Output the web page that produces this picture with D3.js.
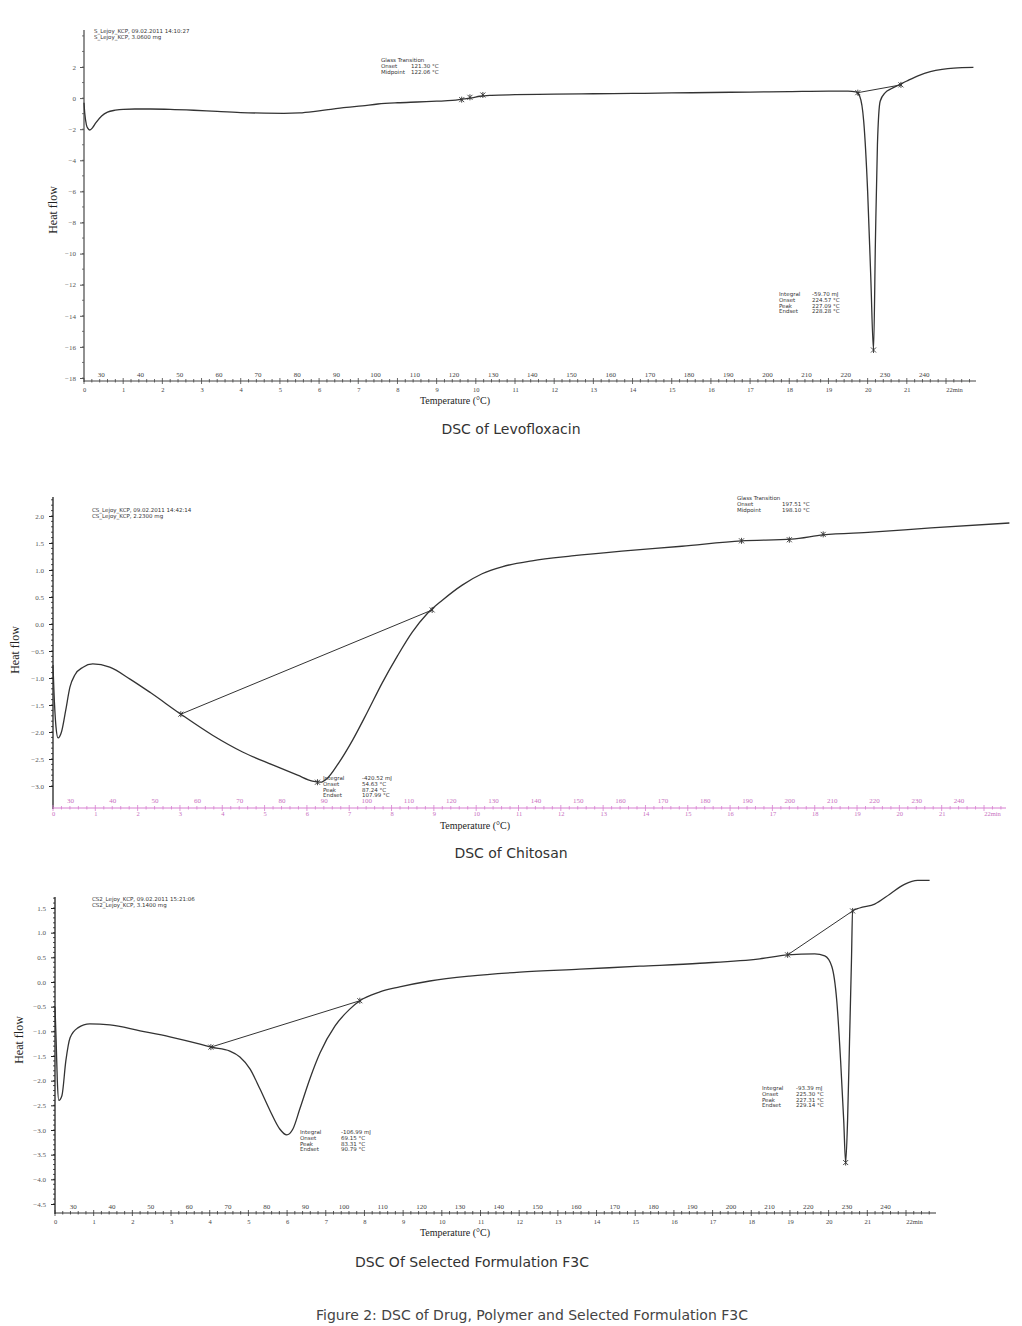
<!DOCTYPE html>
<html><head><meta charset="utf-8">
<script src="https://cdn.jsdelivr.net/npm/d3@7"></script>
<style>body{margin:0;background:#fff} svg{display:block}</style>
</head><body><svg id="c" width="1022" height="1326"></svg>
<script>
// ---------- DATA ----------
// Panel 1: Levofloxacin (time in min, heat flow)
const levTime = [0,0.02,0.06,0.1,0.15,0.22,0.3,0.45,0.6,0.8,1.0,1.3,1.7,2.2,2.8,3.4,4.0,4.6,5.1,5.5,5.9,6.3,6.7,7.1,7.5,8.0,8.5,9.0,9.4,9.7,9.9,10.1,10.4,11,12,13,14,15,16,17,18,19,19.5,19.7,19.8,19.9,20.0,20.08,20.15,20.2,20.25,20.32,20.45,20.6,20.8,21.0,21.3,21.6,21.9,22.2,22.7];
const levHeat = [-0.3,-1.0,-1.7,-1.95,-2.05,-1.9,-1.6,-1.15,-0.9,-0.78,-0.72,-0.7,-0.7,-0.72,-0.78,-0.86,-0.93,-0.97,-0.98,-0.95,-0.85,-0.72,-0.6,-0.5,-0.38,-0.3,-0.25,-0.2,-0.15,-0.05,0.02,0.12,0.18,0.22,0.25,0.28,0.3,0.33,0.36,0.39,0.42,0.45,0.45,0.4,0.1,-1.5,-6,-11.5,-16.2,-9,-3,-0.2,0.35,0.6,0.85,1.1,1.45,1.7,1.85,1.93,1.97];
const levMarkTime = [9.64,9.85,10.18,19.75,20.85,20.15];
const levMarkHeat = [-0.1,0.05,0.2,0.35,0.85,-16.2];
const levBaseTime = [19.75,20.85];
const levBaseHeat = [0.35,0.85];

// Panel 2: Chitosan
const chiTime = [0,0.02,0.07,0.12,0.2,0.3,0.4,0.52,0.71,0.94,1.34,1.82,2.3,3.02,3.77,4.48,5.19,5.78,6.13,6.32,6.49,6.72,7.08,7.43,7.78,8.14,8.49,8.84,9.2,9.67,10.14,10.61,11.32,12.26,13.44,14.86,16.27,17.45,18.2,19.34,20.75,22.6];
const chiHeat = [-0.76,-1.2,-1.9,-2.11,-2.0,-1.6,-1.17,-0.94,-0.8,-0.74,-0.8,-1.02,-1.27,-1.67,-2.06,-2.37,-2.61,-2.8,-2.91,-2.93,-2.85,-2.61,-2.15,-1.63,-1.09,-0.59,-0.15,0.19,0.44,0.72,0.93,1.06,1.17,1.26,1.35,1.44,1.54,1.57,1.65,1.7,1.78,1.87];
const chiMarkTime = [3.02,8.96,6.25,16.27,17.4,18.2];
const chiMarkHeat = [-1.67,0.26,-2.93,1.54,1.56,1.66];
const chiBaseTime = [3.02,8.96];
const chiBaseHeat = [-1.67,0.26];

// Panel 3: Selected formulation F3C
const f3cTime = [0,0.03,0.06,0.1,0.18,0.28,0.39,0.59,0.9,1.42,2.2,2.97,3.75,4.03,4.52,4.78,5.04,5.3,5.56,5.81,5.99,6.15,6.33,6.59,6.85,7.24,7.62,7.88,8.4,8.91,9.69,10.72,12.02,13.57,15.12,16.67,18.22,18.94,19.64,19.9,20.08,20.21,20.31,20.39,20.44,20.49,20.54,20.59,20.62,20.8,21.19,21.58,21.96,22.3,22.61];
const f3cHeat = [-0.5,-1.2,-2.0,-2.4,-2.3,-1.6,-1.13,-0.93,-0.85,-0.87,-0.99,-1.11,-1.26,-1.32,-1.4,-1.52,-1.76,-2.17,-2.61,-2.98,-3.1,-2.98,-2.57,-1.96,-1.44,-0.89,-0.55,-0.38,-0.2,-0.1,0.02,0.12,0.2,0.26,0.32,0.38,0.47,0.55,0.57,0.53,0.32,-0.38,-1.6,-2.81,-3.66,-2.8,-1.2,0.43,1.44,1.5,1.58,1.78,1.98,2.06,2.06];
const f3cMarkTime = [4.03,7.88,18.94,20.62,20.44];
const f3cMarkHeat = [-1.32,-0.38,0.55,1.44,-3.66];
const f3cBaseTime = [4.03,7.88,18.94,20.62];
const f3cBaseHeat = [-1.32,-0.38,0.55,1.44];

// Tick labels
const tempLabels = [30,40,50,60,70,80,90,100,110,120,130,140,150,160,170,180,190,200,210,220,230,240];
const timeLabels = [0,1,2,3,4,5,6,7,8,9,10,11,12,13,14,15,16,17,18,19,20,21,22];
const levYTicks = [2,0,-2,-4,-6,-8,-10,-12,-14,-16,-18];
const chiYTicks = [2.0,1.5,1.0,0.5,0.0,-0.5,-1.0,-1.5,-2.0,-2.5,-3.0];
const f3cYTicks = [1.5,1.0,0.5,0.0,-0.5,-1.0,-1.5,-2.0,-2.5,-3.0,-3.5,-4.0,-4.5];

// Texts
const levHeader = ["S_Lejoy_KCP, 09.02.2011 14:10:27","S_Lejoy_KCP, 3.0600 mg"];
const chiHeader = ["CS_Lejoy_KCP, 09.02.2011 14:42:14","CS_Lejoy_KCP, 2.2300 mg"];
const f3cHeader = ["CS2_Lejoy_KCP, 09.02.2011 15:21:06","CS2_Lejoy_KCP, 3.1400 mg"];
const levGT = [["Glass Transition",""],["Onset","121.30 °C"],["Midpoint","122.06 °C"]];
const levPeak = [["Integral","-59.70 mJ"],["Onset","224.57 °C"],["Peak","227.09 °C"],["Endset","228.28 °C"]];
const chiGT = [["Glass Transition",""],["Onset","197.51 °C"],["Midpoint","198.10 °C"]];
const chiPeak = [["Integral","-420.52 mJ"],["Onset","54.63 °C"],["Peak","87.24 °C"],["Endset","107.99 °C"]];
const f3cPeak1 = [["Integral","-106.99 mJ"],["Onset","69.15 °C"],["Peak","83.31 °C"],["Endset","90.79 °C"]];
const f3cPeak2 = [["Integral","-93.39 mJ"],["Onset","225.30 °C"],["Peak","227.31 °C"],["Endset","229.14 °C"]];
const captions = ["DSC of Levofloxacin","DSC of Chitosan","DSC Of Selected Formulation F3C"];
const figureTitle = "Figure 2: DSC of Drug, Polymer and Selected Formulation F3C";

// ---------- DRAW ----------
const svg = d3.select("#c");
const SERIF = "'Liberation Serif','DejaVu Serif',serif";
const SANS = "'DejaVu Sans','Liberation Sans',sans-serif";

function panel(cfg){
  const g = svg.append("g");
  const x = d3.scaleLinear().domain([0,22]).range(cfg.xr);
  const y = d3.scaleLinear().domain(cfg.yd).range(cfg.yr);
  const T = d3.scaleLinear().domain([cfg.t0, cfg.t0+220]).range(cfg.xr);
  const xAxisY = cfg.xAxisY;

  // y axis line
  g.append("line").attr("x1",cfg.xr[0]).attr("x2",cfg.xr[0])
    .attr("y1",cfg.yTop).attr("y2",xAxisY+1)
    .attr("stroke",cfg.yCol).attr("stroke-width",1.3);
  // minor y ticks
  const minor = d3.range(cfg.yd[0], cfg.yTopV+1e-9, cfg.minor);
  g.selectAll(".ym").data(minor).join("line")
    .attr("x1",cfg.xr[0]-2).attr("x2",cfg.xr[0])
    .attr("y1",d=>y(d)).attr("y2",d=>y(d))
    .attr("stroke",cfg.yCol).attr("stroke-width",0.8);
  // major y ticks + labels
  const ya = g.append("g").attr("transform",`translate(${cfg.xr[0]},0)`)
    .call(d3.axisLeft(y).tickValues(cfg.yTicks).tickSize(4).tickFormat(cfg.fmt));
  ya.select(".domain").remove();
  ya.selectAll("line").attr("stroke",cfg.yCol);
  ya.selectAll("text").attr("font-family",SERIF).attr("font-size",7).attr("fill","#555")
    .attr("x",-cfg.labOff).attr("dy","0.32em");

  // x axis line
  g.append("line").attr("x1",cfg.xr[0]).attr("x2",cfg.xEnd)
    .attr("y1",xAxisY).attr("y2",xAxisY).attr("stroke",cfg.xCol).attr("stroke-width",1);
  const xm = d3.range(0, x.invert(cfg.xEnd), 0.2);
  g.selectAll(".xm").data(xm).join("line")
    .attr("x1",d=>x(d)).attr("x2",d=>x(d))
    .attr("y1",(d,i)=> xAxisY-(i%5===0?3:2)).attr("y2",(d,i)=> xAxisY+(i%5===0?3:1.5))
    .attr("stroke",cfg.xCol).attr("stroke-width",0.8);
  // time labels
  const xa = g.append("g").attr("transform",`translate(0,${xAxisY})`)
    .call(d3.axisBottom(x).tickValues(timeLabels).tickSize(0)
      .tickFormat(d=> d===22 ? "22min" : d));
  xa.select(".domain").remove();
  xa.selectAll("text").attr("font-family",SERIF).attr("font-size",6.5).attr("fill",cfg.xLab)
    .attr("y",cfg.timeDy).attr("dy","0.32em")
    .attr("dx",d=> d===22 ? 8 : 0);
  // temperature labels
  const ta = g.append("g").attr("transform",`translate(0,${xAxisY})`)
    .call(d3.axisTop(T).tickValues(tempLabels).tickSize(0));
  ta.select(".domain").remove();
  ta.selectAll("text").attr("font-family",SERIF).attr("font-size",7).attr("fill",cfg.xLab)
    .attr("y",-cfg.tempDy).attr("dy","0");

  // axis titles
  g.append("text").attr("x",cfg.xTitle[0]).attr("y",cfg.xTitle[1]).attr("text-anchor","middle")
    .attr("font-family",SERIF).attr("font-size",10).attr("fill","#222").text("Temperature (°C)");
  g.append("text").attr("transform",`translate(${cfg.yTitle[0]},${cfg.yTitle[1]}) rotate(-90)`)
    .attr("text-anchor","middle").attr("font-family",SERIF).attr("font-size",12).attr("fill","#222")
    .text("Heat flow");

  // header
  g.selectAll(".hd").data(cfg.header).join("text")
    .attr("x",cfg.headerPos[0]).attr("y",(d,i)=>cfg.headerPos[1]+i*5.5)
    .attr("font-family",SANS).attr("font-size",5.5).attr("fill","#333").text(d=>d);

  // annotations
  cfg.notes.forEach(n=>{
    const ng = g.append("g");
    n.rows.forEach((r,i)=>{
      ng.append("text").attr("x",n.pos[0]).attr("y",n.pos[1]+i*5.8)
        .attr("font-family",SANS).attr("font-size",5.5).attr("fill","#333").text(r[0]);
      if(r[1]) ng.append("text").attr("x",n.pos[0]+n.col).attr("y",n.pos[1]+i*5.8)
        .attr("font-family",SANS).attr("font-size",5.5).attr("fill","#333").text(r[1]);
    });
  });

  // baselines (integration lines), pairs
  for(let i=0;i<cfg.bt.length;i+=2){
    g.append("line").attr("x1",x(cfg.bt[i])).attr("y1",y(cfg.bh[i]))
      .attr("x2",x(cfg.bt[i+1])).attr("y2",y(cfg.bh[i+1]))
      .attr("stroke","#333").attr("stroke-width",1);
  }
  // curve
  const pts = cfg.t.map((t,i)=>[t,cfg.h[i]]);
  g.append("path").datum(pts)
    .attr("d",d3.line().x(d=>x(d[0])).y(d=>y(d[1])).curve(d3.curveMonotoneX))
    .attr("fill","none").attr("stroke","#333").attr("stroke-width",1.3);
  // markers
  const mk = cfg.mt.map((t,i)=>[t,cfg.mh[i]]);
  g.selectAll(".mk").data(mk).join("path")
    .attr("transform",d=>`translate(${x(d[0])},${y(d[1])})`)
    .attr("d","M-2.5,-2.5L2.5,2.5M-2.5,2.5L2.5,-2.5M0,-3L0,3")
    .attr("stroke","#333").attr("stroke-width",0.9).attr("fill","none");
}

panel({xr:[84,946], yd:[-18,2], yr:[378,67], yTop:30, yTopV:4.4, xAxisY:381, xEnd:976,
  yCol:"#555", xCol:"#444", xLab:"#444", minor:1, yTicks:levYTicks, fmt:d3.format("d"), labOff:8,
  t0:25.7, timeDy:9, tempDy:4,
  xTitle:[455,404], yTitle:[57,210], header:levHeader, headerPos:[94,33],
  notes:[{rows:levGT,pos:[381,62],col:30},{rows:levPeak,pos:[779,296],col:33}],
  t:levTime,h:levHeat, mt:levMarkTime, mh:levMarkHeat, bt:levBaseTime, bh:levBaseHeat});

panel({xr:[53,984], yd:[-3,2], yr:[786,516], yTop:497, yTopV:2.35, xAxisY:808, xEnd:1006,
  yCol:"#222", xCol:"#d77fd0", xLab:"#c86fc0", minor:0.1, yTicks:chiYTicks, fmt:d3.format(".1f"), labOff:9,
  t0:26, timeDy:6, tempDy:5,
  xTitle:[475,829], yTitle:[19,650], header:chiHeader, headerPos:[92,512],
  notes:[{rows:chiGT,pos:[737,500],col:45},{rows:chiPeak,pos:[323,780],col:39}],
  t:chiTime,h:chiHeat, mt:chiMarkTime, mh:chiMarkHeat, bt:chiBaseTime, bh:chiBaseHeat});

panel({xr:[55,906], yd:[-4.5,1.5], yr:[1204,908], yTop:897, yTopV:1.75, xAxisY:1213, xEnd:936,
  yCol:"#222", xCol:"#333", xLab:"#444", minor:0.1, yTicks:f3cYTicks, fmt:d3.format(".1f"), labOff:9,
  t0:25.4, timeDy:9, tempDy:4,
  xTitle:[455,1236], yTitle:[23,1040], header:f3cHeader, headerPos:[92,901],
  notes:[{rows:f3cPeak1,pos:[300,1134],col:41},{rows:f3cPeak2,pos:[762,1090],col:34}],
  t:f3cTime,h:f3cHeat, mt:f3cMarkTime, mh:f3cMarkHeat, bt:f3cBaseTime, bh:f3cBaseHeat});

// captions
const capPos = [[511,434],[511,858],[472,1267]];
svg.selectAll(".cap").data(captions).join("text")
  .attr("x",(d,i)=>capPos[i][0]).attr("y",(d,i)=>capPos[i][1]).attr("text-anchor","middle")
  .attr("font-family",SANS).attr("font-size",14).attr("fill","#333").text(d=>d);
svg.append("text").attr("x",532).attr("y",1320).attr("text-anchor","middle")
  .attr("font-family",SANS).attr("font-size",14).attr("fill","#444").text(figureTitle);
</script></body></html>
